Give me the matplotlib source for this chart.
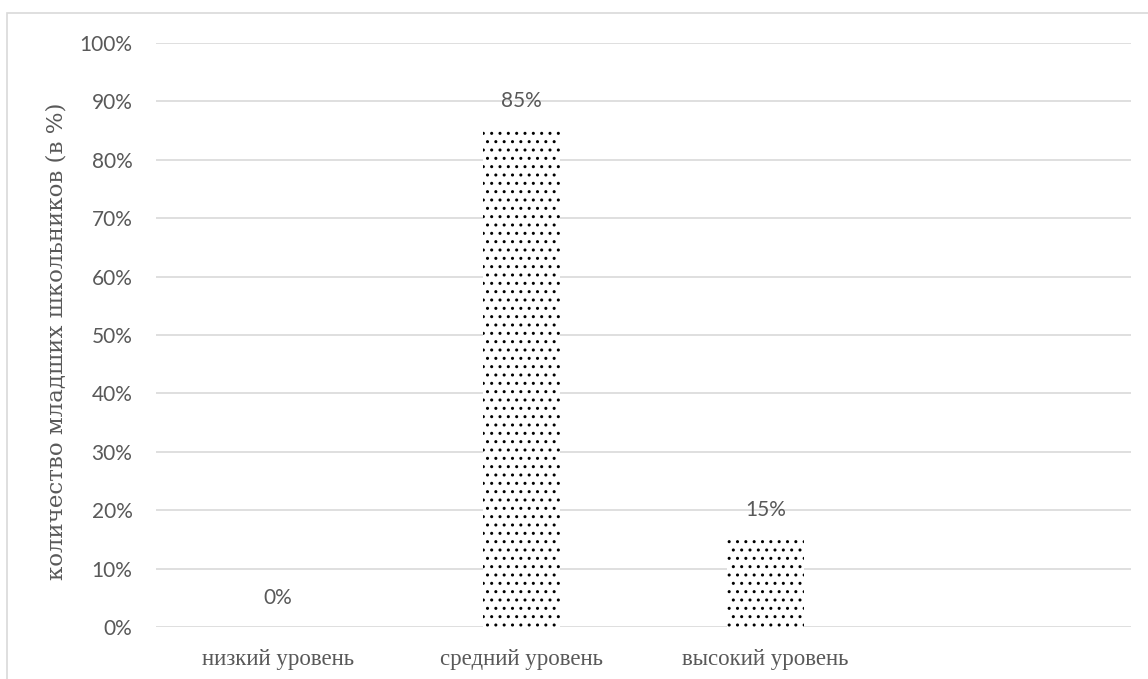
import numpy as np
import matplotlib.pyplot as plt
from matplotlib.patches import Rectangle
from matplotlib.ticker import PercentFormatter

categories = ["низкий уровень", "средний уровень", "высокий уровень", ""]
values = [0, 85, 15, 0]
value_labels = ["0%", "85%", "15%"]
ytick_values = list(range(0, 101, 10))
ylabel = "количество младших школьников (в %)"

GRAY = "#595959"
GRID = "#d9d9d9"

plt.rcParams["hatch.linewidth"] = 1.0
plt.rcParams["hatch.color"] = "black"

fig = plt.figure(figsize=(11.48, 6.79), dpi=100)
ax = fig.add_axes([156 / 1148, 1 - 627 / 679, (1131 - 156) / 1148, (627 - 43) / 679])

# outer chart frame (Excel-like)
fig.patches.append(Rectangle((7 / 1148, -0.05), 1.1, 1 - 13 / 679 + 0.05,
                             transform=fig.transFigure, fill=False,
                             edgecolor=GRID, linewidth=1.2))

x = np.arange(len(categories))
ax.bar(x[:3], values[:3], width=0.316, facecolor="white", edgecolor="black",
       hatch="..", linewidth=0, zorder=3)

for xi, v, lab in zip(x[:3], values[:3], value_labels):
    ax.annotate(lab, (xi, v), xytext=(0, 14), textcoords="offset points",
                ha="center", va="bottom", fontsize=15, color=GRAY,
                family="Lato")

ax.set_xlim(-0.5, len(categories) - 0.5)
ax.set_ylim(0, 100)
ax.set_yticks(ytick_values)
ax.yaxis.set_major_formatter(PercentFormatter(decimals=0))
ax.set_xticks(x)
ax.set_xticklabels(categories, family="Liberation Serif", fontsize=16.5, color=GRAY)
for t in ax.get_yticklabels():
    t.set_family("Lato")
    t.set_fontsize(15)
    t.set_color(GRAY)

ax.grid(axis="y", color=GRID, linewidth=1.2, zorder=0)
ax.set_axisbelow(True)
for s in ax.spines.values():
    s.set_visible(False)
ax.tick_params(length=0, pad=17, axis="y")
ax.tick_params(length=0, pad=16, axis="x")

ax.set_ylabel(ylabel, family="DejaVu Serif", fontsize=16.5, color=GRAY)
ax.yaxis.set_label_coords(-(156 - 68) / 975, 0.49)

fig.savefig("out.png", dpi=100)
